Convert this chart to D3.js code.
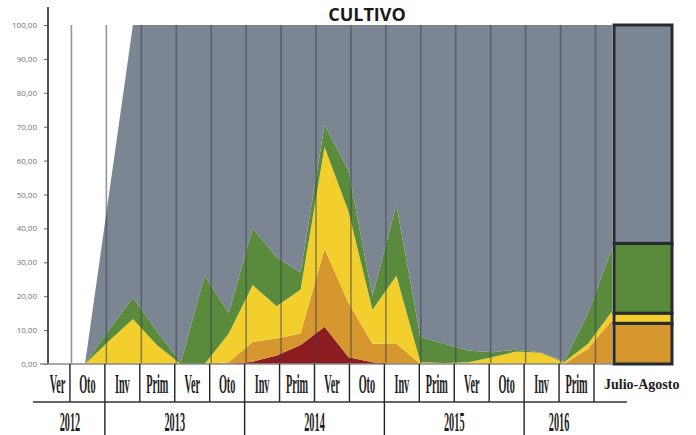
<!DOCTYPE html>
<html>
<head>
<meta charset="utf-8">
<script src="https://cdn.jsdelivr.net/npm/d3@7"></script>
<style>
body { margin:0; background:#fff; }
</style>
</head>
<body>
<div id="chart-area"></div>
<script>
/*
*    Cultivo - area apilada por estacion + barra Julio-Agosto
*/

// tabla del eje x
var estaciones = ["Ver","Oto","Inv","Prim","Ver","Oto","Inv","Prim","Ver","Oto","Inv","Prim","Ver","Oto","Inv","Prim"];
var anios = ["2012","2013","2014","2015","2016"];
var aniosCols = [2,4,4,4,2];

var yTicks = [0,10,20,30,40,50,60,70,80,90,100];

// series (de abajo hacia arriba), un valor por periodo
var keys = ["rojo","naranja","amarillo","verde","gris"];
var rojo     = [0,0,0,0,0,0,0,0.7,2.5,5.6,11,2,0.5,0,0,0,0,0,0,0,0,0,0];
var naranja  = [0,0,0,0,0,0,0.5,5.8,5,3.4,23,16,5.5,6,0,0,0,0,0,0,0,4.5,13];
var amarillo = [0,6.8,13.3,5.6,0,0,8.5,16.8,9.5,13,30,27,10,20,0.5,0.3,0.5,2,3.7,3.3,0.5,1.5,2.5];
var verde    = [0,3.2,6.2,4.1,0.5,26,6,16.7,14.5,5,6.5,12,4,21,7.5,5.7,3.5,1.5,0.5,0.2,0.3,9,18.5];
var gris     = [0,40,80.5,90.3,99.5,74,85,60,68.5,73,29.5,43,80,53,92,94,96,96.5,95.8,96.5,99.2,85,66];

// barra Julio-Agosto
var barraCat = ["Julio-Agosto"];
var barraValores = [0,12,3,20.6,64.4];

var colores = {
	rojo:"#8c1c1f",
	naranja:"#d6972f",
	amarillo:"#f2cf2c",
	verde:"#5a8a3b",
	gris:"#7c8693"
};

var width = 696;
var height = 435;

var svg = d3.select("#chart-area")
	.append("svg")
		.attr("width",width)
		.attr("height",height)

var y = d3.scaleLinear()
	.domain([0,100])
	.range([364,25]);

var x = d3.scaleLinear()
	.domain([0, rojo.length-1])
	.range([85,612]);

var xCol = d3.scaleBand()
	.domain(d3.range(estaciones.length))
	.range([35,594]);

var xBar = d3.scaleBand()
	.domain(barraCat)
	.range([614,672]);

var series = {rojo:rojo, naranja:naranja, amarillo:amarillo, verde:verde, gris:gris};
var datos = rojo.map(function(d,i){
	var row = {i:i};
	keys.forEach(function(k){ row[k] = series[k][i]; });
	return row;
});

var stack = d3.stack().keys(keys);
var capas = stack(datos);

var area = d3.area()
	.x(function(d){ return x(d.data.i); })
	.y0(function(d){ return y(d[0]); })
	.y1(function(d){ return y(d[1]); });

svg.selectAll("path.capa")
	.data(capas)
	.enter()
	.append("path")
		.attr("class","capa")
		.attr("d",area)
		.attr("fill",function(d){ return colores[d.key]; });

// lineas verticales
var bordes = d3.range(estaciones.length).map(function(i){ return xCol(i) + xCol.bandwidth(); });

svg.selectAll("line.grid")
	.data(bordes)
	.enter()
	.append("line")
		.attr("class","grid")
		.attr("x1",function(d){ return d + 1.5; })
		.attr("x2",function(d){ return d + 1.5; })
		.attr("y1",y(100))
		.attr("y2",y(0))
		.attr("stroke","#3a424c")
		.attr("stroke-opacity",0.55)
		.attr("stroke-width",1.6);

// barra
var barraDatos = [];
var acum = 0;
keys.forEach(function(k,i){
	barraDatos.push({key:k, y0:acum, y1:acum + barraValores[i]});
	acum += barraValores[i];
});

svg.selectAll("rect.barra")
	.data(barraDatos.filter(function(d){ return d.y1 > d.y0; }))
	.enter()
	.append("rect")
		.attr("class","barra")
		.attr("x",xBar("Julio-Agosto"))
		.attr("width",xBar.bandwidth())
		.attr("y",function(d){ return y(d.y1); })
		.attr("height",function(d){ return y(d.y0) - y(d.y1); })
		.attr("fill",function(d){ return colores[d.key]; })
		.attr("stroke","#262b30")
		.attr("stroke-width",3);

// ejes
var fmt = d3.formatLocale({decimal:",", thousands:".", grouping:[3], currency:["","€"]}).format(".2f");

var yAxisCall = d3.axisLeft(y)
	.tickValues(yTicks)
	.tickSize(4)
	.tickFormat(fmt);

var yAxis = svg.append("g")
	.attr("transform","translate(48,0)")
	.call(yAxisCall);
yAxis.select(".domain").remove();
yAxis.selectAll(".tick line").attr("stroke","#666");
yAxis.selectAll("text")
	.attr("font-family","Open Sans")
	.attr("font-size","8px")
	.attr("fill","#727272")
	.attr("x",-11);

svg.append("line")
	.attr("x1",48).attr("x2",48)
	.attr("y1",7).attr("y2",y(0))
	.attr("stroke","#2a2a2a")
	.attr("stroke-width",1.6);

svg.append("line")
	.attr("x1",40).attr("x2",612)
	.attr("y1",y(0)).attr("y2",y(0))
	.attr("stroke","#8a8a8a")
	.attr("stroke-width",1.5);

// tabla
svg.selectAll("line.col")
	.data(bordes)
	.enter()
	.append("line")
		.attr("class","col")
		.attr("x1",function(d){ return d; })
		.attr("x2",function(d){ return d; })
		.attr("y1",364)
		.attr("y2",402)
		.attr("stroke","#222")
		.attr("stroke-width",1.4);

svg.append("line")
	.attr("x1",33).attr("x2",627)
	.attr("y1",402).attr("y2",402)
	.attr("stroke","#333")
	.attr("stroke-width",1.5);

svg.selectAll("text.est")
	.data(estaciones)
	.enter()
	.append("text")
		.attr("class","est")
		.attr("transform",function(d,i){
			return "translate(" + (xCol(i) + xCol.bandwidth()/2 + (i == 0 ? 5 : 0)) + ",393) scale(0.38,1)";
		})
		.attr("text-anchor","middle")
		.attr("font-family","Liberation Serif")
		.attr("font-weight","bold")
		.attr("font-size","27px")
		.attr("fill","#1e1e1e")
		.text(function(d){ return d; });

// años
var inicio = 0;
var tramos = anios.map(function(a,i){
	var t = {label:a, desde:inicio, hasta:inicio + aniosCols[i]};
	inicio += aniosCols[i];
	return t;
});

svg.selectAll("line.anio")
	.data(tramos.slice(1))
	.enter()
	.append("line")
		.attr("class","anio")
		.attr("x1",function(d){ return xCol(d.desde); })
		.attr("x2",function(d){ return xCol(d.desde); })
		.attr("y1",402)
		.attr("y2",435)
		.attr("stroke","#222")
		.attr("stroke-width",1.4);

svg.selectAll("text.anio")
	.data(tramos)
	.enter()
	.append("text")
		.attr("class","anio")
		.attr("transform",function(d){
			var cx = (xCol(d.desde) + xCol(d.hasta - 1) + xCol.bandwidth())/2;
			return "translate(" + cx + ",431) scale(0.38,1)";
		})
		.attr("text-anchor","middle")
		.attr("font-family","Liberation Serif")
		.attr("font-weight","bold")
		.attr("font-size","27px")
		.attr("fill","#1e1e1e")
		.text(function(d){ return d.label; });

svg.append("text")
	.attr("x",604)
	.attr("y",389)
	.attr("font-family","Liberation Serif")
	.attr("font-weight","bold")
	.attr("font-size","14px")
	.attr("fill","#1e1e1e")
	.text("Julio-Agosto");

// titulo (en el original queda cortado arriba; aqui se baja un poco)
svg.append("text")
	.attr("x",367)
	.attr("y",21)
	.attr("text-anchor","middle")
	.attr("font-family","Open Sans")
	.attr("font-weight","bold")
	.attr("font-size","18px")
	.attr("fill","#1a1a1a")
	.text("CULTIVO");
</script>
</body>
</html>
